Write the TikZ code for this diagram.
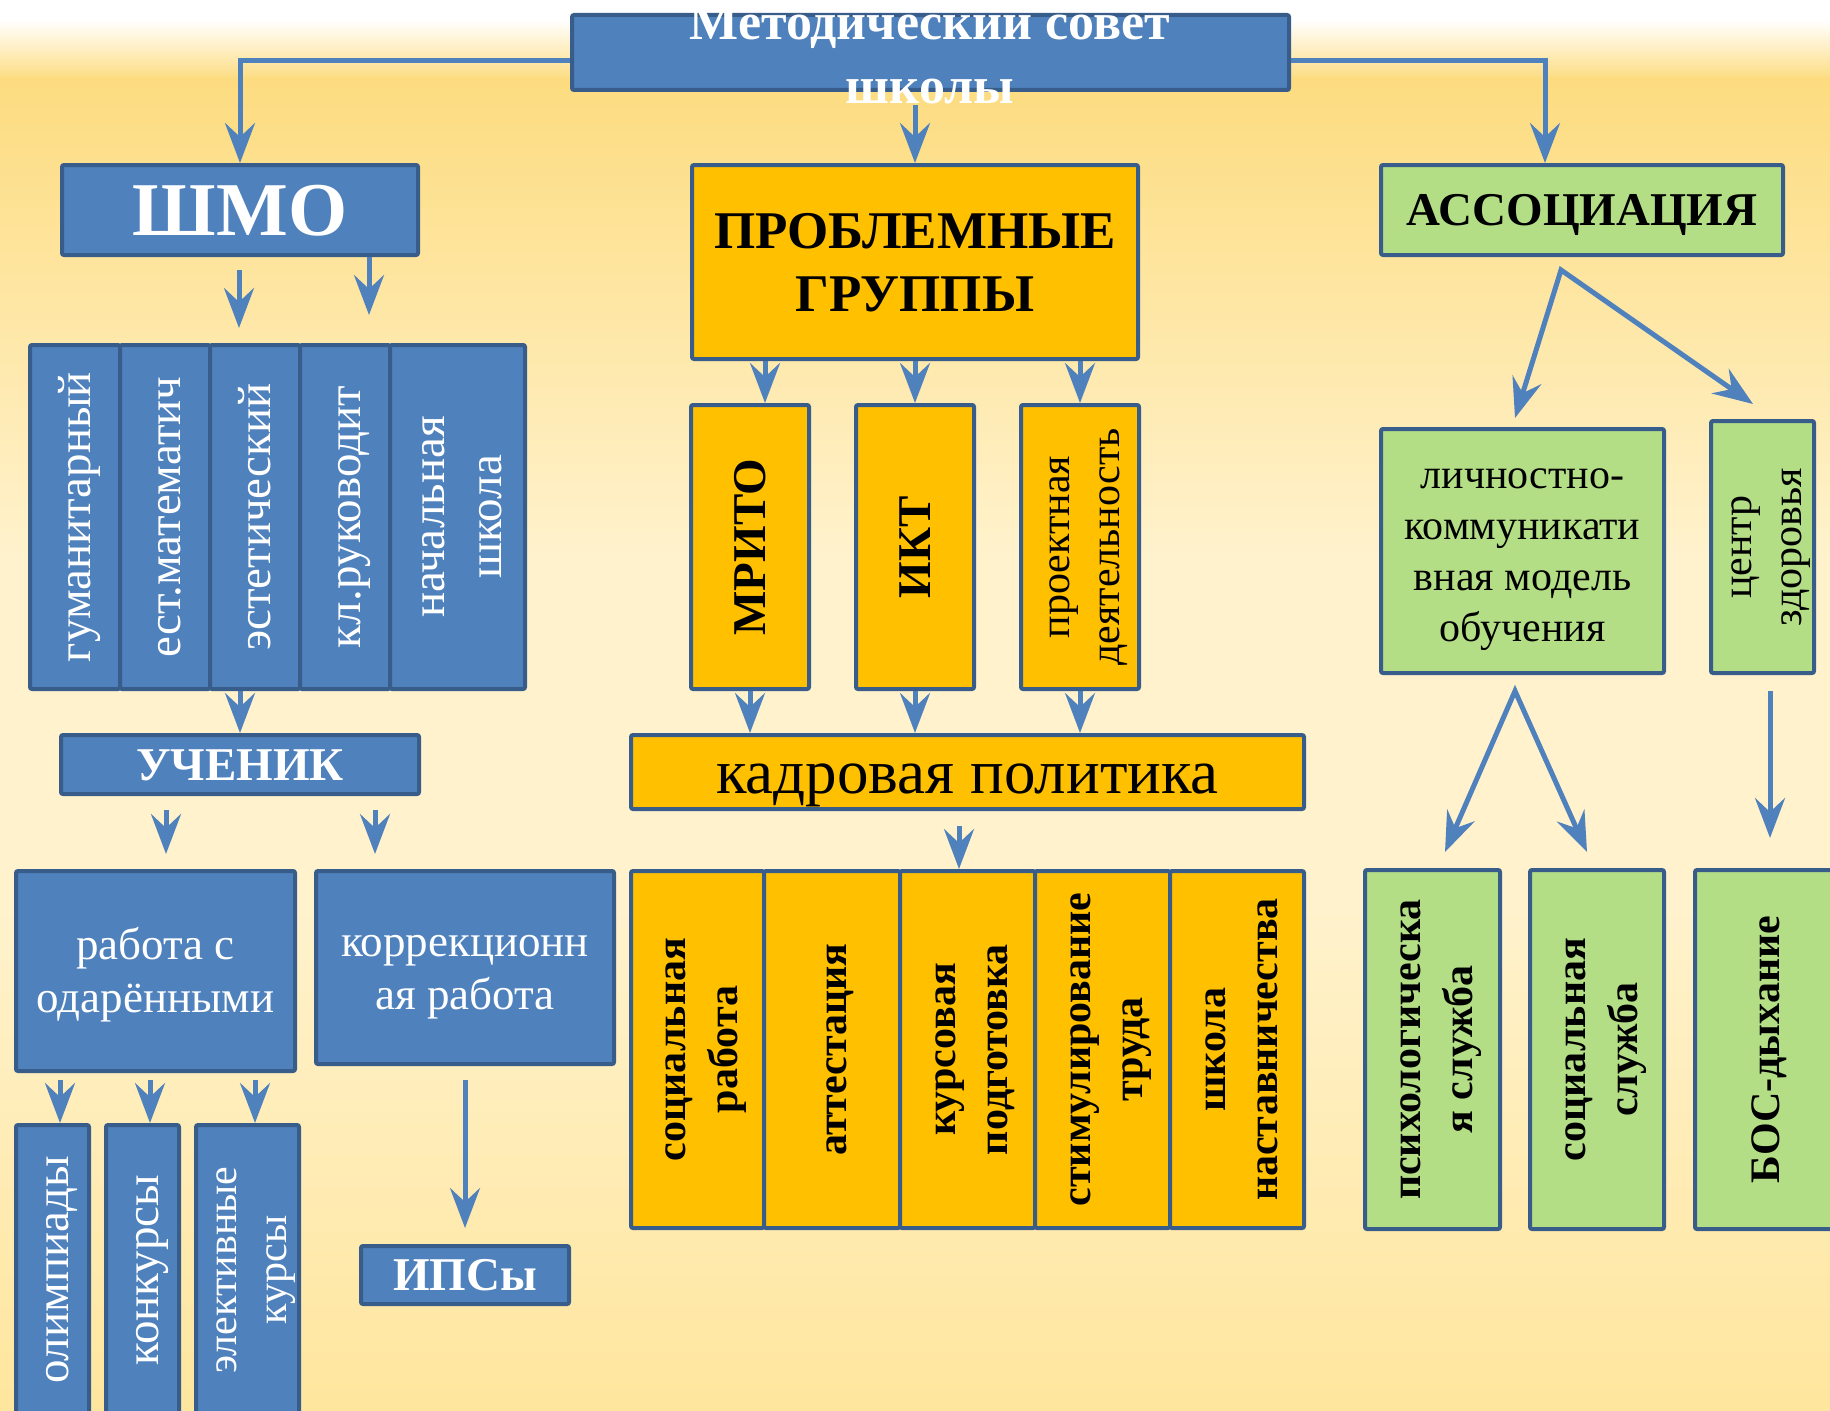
\documentclass[tikz,border=0pt]{standalone}
\usepackage{fontspec}
\setmainfont{Liberation Serif}
\usepackage{tikz}
\usetikzlibrary{arrows.meta}

\definecolor{boxBlue}{RGB}{79,129,189}
\definecolor{edgeBlue}{RGB}{56,93,138}
\definecolor{boxOrange}{RGB}{255,192,0}
\definecolor{boxGreen}{RGB}{180,222,134}
\definecolor{bgTop}{RGB}{253,220,128}
\definecolor{bgMid}{RGB}{255,242,205}
\definecolor{bgBot}{RGB}{255,230,158}

% strut with the ascent and descent of the font
\newcommand{\boxstrut}{\rule[-0.216em]{0pt}{1.107em}}

\begin{document}
\begin{tikzpicture}[
            x = 1pt, y = -1pt, % one unit is one pixel, y runs down
            > = {Stealth[length=40pt, width=30pt, inset=14pt]}, % arrow head style
            box/.style = {draw = edgeBlue, line width = 4pt, rounded corners = 2pt,
                inner sep = 0pt, align = center,
                execute at begin node = \boxstrut, execute at end node = \boxstrut},
            bluebox/.style = {box, fill = boxBlue, text = white},
            orangebox/.style = {box, fill = boxOrange, text = black},
            greenbox/.style = {box, fill = boxGreen, text = black},
            upright/.style = {rotate = 90},
            link/.style = {draw = boxBlue, line width = 5pt, ->},
            fork/.style = {draw = boxBlue, line width = 5pt, <->},
            titlefont/.style = {font = \bfseries\fontsize{52}{64}\selectfont},
            bigfont/.style = {font = \bfseries\fontsize{76}{87}\selectfont},
            headfont/.style = {font = \bfseries\fontsize{53}{63}\selectfont},
            capfont/.style = {font = \bfseries\fontsize{47}{54}\selectfont},
            colfont/.style = {font = \fontsize{47}{57}\selectfont},
            textfont/.style = {font = \fontsize{45}{53}\selectfont},
            smallfont/.style = {font = \fontsize{42}{50}\selectfont},
            rowfont/.style = {font = \bfseries\fontsize{42}{52}\selectfont}
        ]

        \useasboundingbox (0,0) rectangle (1830,1410);
        \clip (0,0) rectangle (1830,1410);

        % background
        \fill[white] (0,0) rectangle (1830,22);
        \shade[top color = white, bottom color = bgTop] (0,20) rectangle (1830,80);
        \shade[top color = bgTop, bottom color = bgMid] (0,78) rectangle (1830,560);
        \fill[bgMid] (0,558) rectangle (1830,902);
        \shade[top color = bgMid, bottom color = bgBot] (0,900) rectangle (1830,1410);

        % council
        \node[bluebox, minimum width = 717, minimum height = 75] (council) at (930.5,52.5) {};

        % ШМО branch
        \node[bluebox, bigfont, minimum width = 356, minimum height = 90] (shmo) at (240,210) {ШМО};

        \node[bluebox, upright, colfont, minimum width = 344, minimum height = 90] (hum) at (75,517) {гуманитарный};
        \node[bluebox, upright, colfont, minimum width = 344, minimum height = 90] (nat) at (165,517) {ест.математич};
        \node[bluebox, upright, colfont, minimum width = 344, minimum height = 90] (aes) at (255,517) {эстетический};
        \node[bluebox, upright, colfont, minimum width = 344, minimum height = 90] (cls) at (345,517) {кл.руководит};
        \node[bluebox, upright, colfont, minimum width = 344, minimum height = 135] (prim) at (457.5,517) {\boxstrut начальная\\школа};

        \node[bluebox, capfont, minimum width = 358, minimum height = 59] (student) at (240,764.5) {УЧЕНИК};

        \node[bluebox, textfont, minimum width = 279, minimum height = 200] (gifted) at (155.5,971) {\boxstrut работа с\\одарёнными};
        \node[bluebox, textfont, minimum width = 298, minimum height = 193] (corr) at (465,967.5) {\boxstrut коррекционн\\ая работа};

        \node[bluebox, upright, colfont, minimum width = 290, minimum height = 73] (olymp) at (52.5,1270) {олимпиады};
        \node[bluebox, upright, colfont, minimum width = 290, minimum height = 73] (contest) at (142.5,1270) {конкурсы};
        \node[bluebox, upright, smallfont, minimum width = 290, minimum height = 103] (elect) at (247.5,1270) {\boxstrut элективные\\курсы};

        \node[bluebox, capfont, minimum width = 208, minimum height = 58] (ips) at (465,1275) {ИПСы};

        % problem groups
        \node[orangebox, headfont, minimum width = 446, minimum height = 194] (groups) at (915,262) {\boxstrut ПРОБЛЕМНЫЕ\\ГРУППЫ};

        \node[orangebox, upright, capfont, minimum width = 284, minimum height = 118] (mrito) at (750,547) {МРИТО};
        \node[orangebox, upright, capfont, minimum width = 284, minimum height = 118] (ikt) at (915,547) {ИКТ};
        \node[orangebox, upright, smallfont, minimum width = 284, minimum height = 118] (proj) at (1080,547) {\boxstrut проектная\\деятельность};

        \node[orangebox, font = \fontsize{63}{72}\selectfont, minimum width = 673, minimum height = 74] (staff) at (967.5,772) {кадровая политика};

        \node[orangebox, upright, rowfont, minimum width = 357, minimum height = 133] (socwork) at (697.5,1049.5) {\boxstrut социальная\\работа};
        \node[orangebox, upright, rowfont, minimum width = 357, minimum height = 136] (attest) at (832,1049.5) {аттестация};
        \node[orangebox, upright, rowfont, minimum width = 357, minimum height = 135] (kurs) at (967.5,1049.5) {\boxstrut курсовая\\подготовка};
        \node[orangebox, upright, rowfont, minimum width = 357, minimum height = 135] (stim) at (1102.5,1049.5) {\boxstrut стимулирование\\труда};
        \node[orangebox, upright, rowfont, minimum width = 357, minimum height = 134] (mentor) at (1237,1049.5) {\boxstrut школа\\наставничества};

        % association
        \node[greenbox, capfont, minimum width = 402, minimum height = 90] (assoc) at (1582,210) {АССОЦИАЦИЯ};

        \node[greenbox, font = \fontsize{42}{51}\selectfont, minimum width = 283, minimum height = 244] (personal) at (1522.5,551) {\boxstrut личностно-\\коммуникати\\вная модель\\обучения};
        \node[greenbox, upright, smallfont, minimum width = 252, minimum height = 103] (health) at (1762.5,547) {\boxstrut центр\\здоровья};

        \node[greenbox, upright, rowfont, minimum width = 359, minimum height = 135] (psych) at (1432.5,1049.5) {\boxstrut психологическа\\я служба};
        \node[greenbox, upright, rowfont, minimum width = 359, minimum height = 134] (socserv) at (1597,1049.5) {\boxstrut социальная\\служба};
        \node[greenbox, upright, rowfont, minimum width = 359, minimum height = 141] (bos) at (1765.5,1049.5) {БОС-дыхание};

        % free ends of the connectors
        \coordinate (councilFoot) at (915,105);
        \coordinate (shmoOut) at (239,270);
        \coordinate (shmoTip) at (239,328);
        \coordinate (shmoTipB) at (369,315);
        \coordinate (studOutA) at (166,810);
        \coordinate (studTipA) at (166,854);
        \coordinate (studOutB) at (375,810);
        \coordinate (studTipB) at (375,854);
        \coordinate (giftOutA) at (60,1080);
        \coordinate (giftOutB) at (150,1080);
        \coordinate (giftOutC) at (255,1080);
        \coordinate (corrOut) at (465,1080);
        \coordinate (mritoIn) at ([xshift=15]mrito.east);
        \coordinate (staffOut) at (959,826);
        \coordinate (assocFork) at (1561,270);
        \coordinate (persTip) at (1515,418);
        \coordinate (healthTip) at (1753,404);
        \coordinate (persFork) at (1515,691);
        \coordinate (psychTip) at (1445,852);
        \coordinate (socTip) at (1587,852);
        \coordinate (healthOut) at (1770,691);
        \coordinate (bosTip) at (1770,838);

        % from the council
        \draw[link] ([yshift=-8]council.west) -| (shmo.north);
        \draw[link] ([yshift=-8]council.east) -| ([xshift=-37]assoc.north);
        \draw[link] (councilFoot) -- (groups.north);

        % ШМО
        \draw[link] (shmoOut) -- (shmoTip);
        \draw[link] (shmo.south -| shmoTipB) -- (shmoTipB);
        \draw[link] (aes.west -| student.north) -- (student.north);
        \draw[link] (studOutA) -- (studTipA);
        \draw[link] (studOutB) -- (studTipB);
        \draw[link] (giftOutA) -- (giftOutA |- olymp.east);
        \draw[link] (giftOutB) -- (giftOutB |- contest.east);
        \draw[link] (giftOutC) -- (giftOutC |- elect.east);
        \draw[link] (corrOut) -- ([yshift=16]ips.north);

        % problem groups
        \draw[link] (mritoIn |- groups.south) -- (mritoIn);
        \draw[link] (ikt.east |- groups.south) -- (ikt.east);
        \draw[link] (proj.east |- groups.south) -- (proj.east);
        \draw[link] (mrito.west) -- (mrito.west |- staff.north);
        \draw[link] (ikt.west) -- (ikt.west |- staff.north);
        \draw[link] (proj.west) -- (proj.west |- staff.north);
        \draw[link] (staffOut) -- (staffOut |- kurs.east);

        % association
        \draw[fork] (persTip) -- (assocFork) -- (healthTip);
        \draw[fork] (psychTip) -- (persFork) -- (socTip);
        \draw[link] (healthOut) -- (bosTip);

        % council title over its box
        \node[titlefont, text = white, align = center, inner sep = 0pt,
            execute at begin node = \boxstrut, execute at end node = \boxstrut]
            (councilTitle) at (930,53.5) {\boxstrut Методический совет\\школы};

\end{tikzpicture}
\end{document}
